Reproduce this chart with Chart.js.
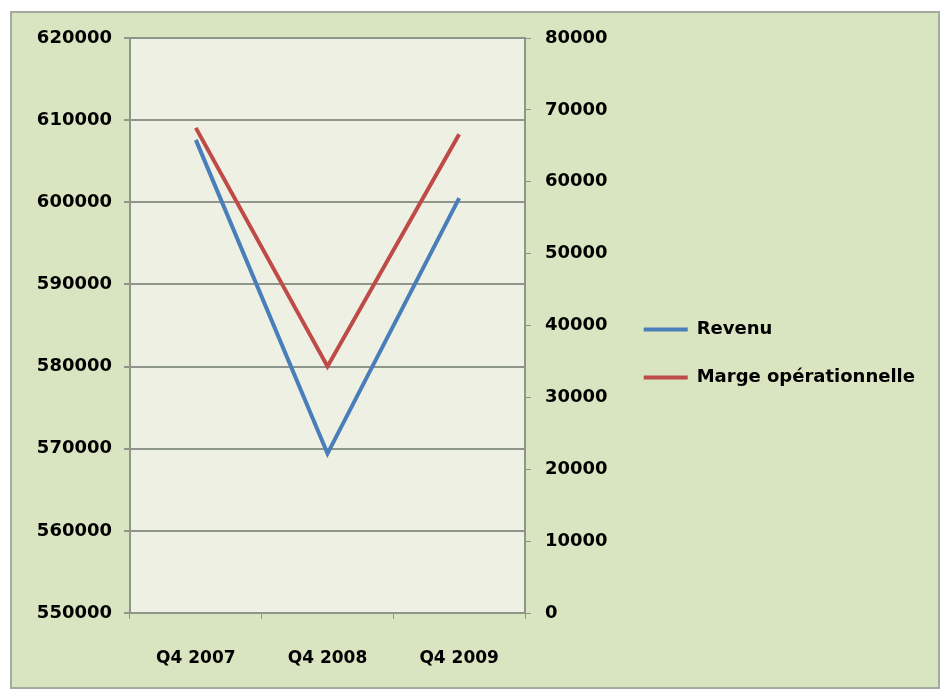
<!DOCTYPE html>
<html>
<head>
<meta charset="utf-8">
<script src="https://cdn.jsdelivr.net/npm/chart.js@4.4.0/dist/chart.umd.min.js"></script>
<style>
    html, body { margin: 0; padding: 0; background: #ffffff; }
    #wrap { width: 946px; height: 697px; }
</style>
</head>
<body>
<div id="wrap"><canvas id="graphique"></canvas></div>
<script>
// donnees
var trimestres = ['Q4 2007', 'Q4 2008', 'Q4 2009'];
var revenu = [607600, 569400, 600500];
var margeOp = [67500, 34300, 66600];
var axeGauche = { min: 550000, max: 620000, pas: 10000 };
var axeDroit = { min: 0, max: 80000, pas: 10000 };

var police = { family: "'DejaVu Sans', sans-serif", size: 18, weight: 'bold' };
var policeX = { family: "'DejaVu Sans', sans-serif", size: 17, weight: 'bold' };
var gris = '#8e958a';

function sansSeparateur(v) {
    return String(v);
}

// fond du cadre et de la zone de trace
var fondPlugin = {
    id: 'fond',
    beforeDraw: function (chart) {
        var ctx = chart.ctx;
        var a = chart.chartArea;
        ctx.save();
        ctx.fillStyle = '#ffffff';
        ctx.fillRect(0, 0, chart.width, chart.height);
        ctx.fillStyle = '#d9e4c0';
        ctx.fillRect(11, 12, 928, 676);
        ctx.strokeStyle = '#a3aa9f';
        ctx.lineWidth = 2;
        ctx.strokeRect(11, 12, 928, 676);
        ctx.fillStyle = '#eef0e3';
        ctx.fillRect(a.left, a.top, a.right - a.left, a.bottom - a.top);
        ctx.restore();
    }
};

var ctx = document.getElementById('graphique');
var graphique = new Chart(ctx, {
    type: 'line',
    data: {
        labels: trimestres,
        datasets: [
            {
                label: 'Revenu',
                data: revenu,
                yAxisID: 'y',
                borderColor: '#4a7ebb',
                backgroundColor: '#4a7ebb',
                borderWidth: 4,
                pointRadius: 0,
                tension: 0
            },
            {
                label: 'Marge opérationnelle',
                data: margeOp,
                yAxisID: 'y1',
                borderColor: '#be4b48',
                backgroundColor: '#be4b48',
                borderWidth: 4,
                pointRadius: 0,
                tension: 0
            }
        ]
    },
    options: {
        responsive: true,
        maintainAspectRatio: false,
        animation: false,
        layout: { padding: { left: 20, top: 38, right: 21, bottom: 28 } },
        plugins: {
            tooltip: { enabled: false },
            legend: {
                position: 'right',
                align: 'center',
                maxWidth: 335,
                labels: {
                    color: '#000000',
                    font: police,
                    boxWidth: 44,
                    boxHeight: 4,
                    padding: 30,
                    generateLabels: function (chart) {
                        var items = Chart.defaults.plugins.legend.labels.generateLabels(chart);
                        items.forEach(function (it) {
                            it.lineWidth = 0;
                            it.fillStyle = it.strokeStyle;
                        });
                        return items;
                    }
                }
            }
        },
        scales: {
            x: {
                offset: true,
                grid: { display: true, offset: true, drawOnChartArea: false, drawTicks: true, tickLength: 6, color: gris },
                border: { display: true, color: gris, width: 2 },
                ticks: { color: '#000000', font: policeX, padding: 29, maxRotation: 0 },
                afterFit: function (scale) { scale.height = 56; }
            },
            y: {
                position: 'left',
                min: axeGauche.min,
                max: axeGauche.max,
                ticks: { stepSize: axeGauche.pas, color: '#000000', font: police, padding: 12, callback: sansSeparateur },
                grid: { color: gris, lineWidth: 2, tickLength: 6 },
                border: { display: true, color: gris, width: 2 },
                afterFit: function (scale) { scale.width = 110; }
            },
            y1: {
                position: 'right',
                min: axeDroit.min,
                max: axeDroit.max,
                ticks: { stepSize: axeDroit.pas, color: '#000000', font: police, padding: 14, callback: sansSeparateur },
                grid: { drawOnChartArea: false, color: gris, tickLength: 6 },
                border: { display: true, color: gris, width: 2 },
                afterFit: function (scale) {
                    // la legende prend le reste, la zone de trace finit vers x=525
                    var leg = scale.chart.legend;
                    var largLeg = leg ? leg.width : 0;
                    scale.width = Math.max(86, 946 - 21 - 525 - largLeg);
                }
            }
        }
    },
    plugins: [fondPlugin]
});
</script>
</body>
</html>
